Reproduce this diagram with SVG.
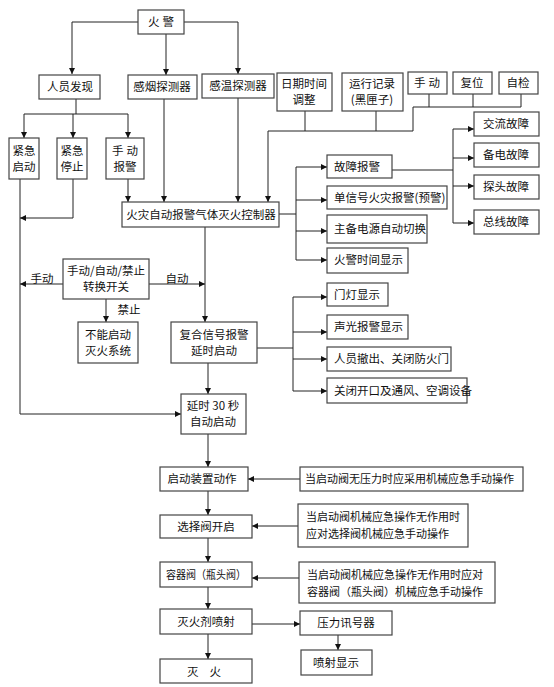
<svg xmlns="http://www.w3.org/2000/svg" width="554" height="687" viewBox="0 0 554 687">
<defs>
<marker id="ar" viewBox="0 0 10 10" refX="10" refY="5" markerWidth="6" markerHeight="6" markerUnits="userSpaceOnUse" orient="auto">
<path d="M0,0 L10,5 L0,10 z" fill="#111"/>
</marker>
<style>
rect{fill:#fff;stroke:#444;stroke-width:1.2}
text{font-family:"Noto Sans CJK SC","Liberation Sans",sans-serif;font-size:11.5px;fill:#111;text-anchor:middle}
.l{text-anchor:start}
.n{font-size:11px}
#conn path{fill:none;stroke:#222;stroke-width:1}
.a{marker-end:url(#ar)}
</style>
</defs>
<rect x="0" y="0" width="554" height="687" style="fill:#fff;stroke:none"/>
<g id="conn">
<path class="a" d="M138,22 H72 V74"/>
<path class="a" d="M166,34 V75"/>
<path class="a" d="M184,22 H238 V74"/>
<path d="M76,99 V114 M24,114 H128"/>
<path class="a" d="M24,114 V138"/>
<path class="a" d="M73,114 V138"/>
<path class="a" d="M128,114 V138"/>
<path class="a" d="M20,179 V414 H181"/>
<path class="a" d="M73,179 V218 H20"/>
<path class="a" d="M128,179 V202"/>
<path class="a" d="M164,99 V202"/>
<path class="a" d="M238,98 V202"/>
<path d="M305,111 V131 M376,111 V131 M429,94 V107 M473,94 V107 M521,94 V107 M413,131 V107 H521"/>
<path class="a" d="M413,131 H268 V202"/>
<path d="M279,214 H296 M296,167 V260"/>
<path class="a" d="M296,167 H327"/>
<path class="a" d="M296,200 H327"/>
<path class="a" d="M296,231 H327"/>
<path class="a" d="M296,260 H327"/>
<path d="M392,170 H453 M453,129 V223"/>
<path class="a" d="M453,129 H474"/>
<path class="a" d="M453,158 H474"/>
<path class="a" d="M453,186 H474"/>
<path class="a" d="M453,223 H474"/>
<path class="a" d="M205,227 V322"/>
<path class="a" d="M149,284 H205"/>
<path class="a" d="M63,284 H20"/>
<path class="a" d="M106,299 V322"/>
<path d="M257,348 H293 M293,297 V391"/>
<path class="a" d="M293,297 H327"/>
<path class="a" d="M293,332 H327"/>
<path class="a" d="M293,359 H327"/>
<path class="a" d="M293,391 H327"/>
<path class="a" d="M208,363 V394"/>
<path class="a" d="M208,434 V467"/>
<path class="a" d="M300,479 H248"/>
<path class="a" d="M208,491 V515"/>
<path class="a" d="M298,526 H252"/>
<path class="a" d="M208,538 V562"/>
<path class="a" d="M299,578 H252"/>
<path class="a" d="M208,587 V609"/>
<path class="a" d="M252,624 H300"/>
<path class="a" d="M338,635 V650"/>
<path class="a" d="M208,634 V659"/>
</g>
<g id="labels">
<text x="42" y="283">手动</text>
<text x="177" y="283">自动</text>
<text x="129" y="314">禁止</text>
</g>
<g id="n-fire"><rect x="138" y="10" width="46" height="24"/><text x="161" y="26" textLength="26" lengthAdjust="spacing">火警</text></g>
<g id="n-person"><rect x="39" y="75" width="61" height="24"/><text x="70" y="91">人员发现</text></g>
<g id="n-smoke"><rect x="128" y="75" width="69" height="24"/><text x="162" y="91">感烟探测器</text></g>
<g id="n-heat"><rect x="202" y="74" width="72" height="24"/><text x="238" y="90">感温探测器</text></g>
<g id="n-estart"><rect x="9" y="138" width="30" height="41"/><text x="24" y="155">紧急</text><text x="24" y="171">启动</text></g>
<g id="n-estop"><rect x="57" y="138" width="30" height="41"/><text x="72" y="155">紧急</text><text x="72" y="171">停止</text></g>
<g id="n-manual"><rect x="106" y="138" width="38" height="41"/><text x="125" y="155" textLength="26" lengthAdjust="spacing">手动</text><text x="125" y="171">报警</text></g>
<g id="n-ctrl"><rect x="122" y="202" width="157" height="25"/><text x="201" y="219">火灾自动报警气体灭火控制器</text></g>
<g id="n-date"><rect x="277" y="73" width="55" height="38"/><text x="304" y="88">日期时间</text><text x="304" y="104">调整</text></g>
<g id="n-log"><rect x="342" y="73" width="61" height="38"/><text x="372" y="88">运行记录</text><text x="372" y="104">(黑匣子)</text></g>
<g id="n-hand"><rect x="408" y="72" width="39" height="22"/><text x="427" y="87" textLength="26" lengthAdjust="spacing">手动</text></g>
<g id="n-reset"><rect x="453" y="72" width="39" height="22"/><text x="472" y="87">复位</text></g>
<g id="n-check"><rect x="499" y="72" width="39" height="22"/><text x="518" y="87">自检</text></g>
<g id="n-fault"><rect x="327" y="155" width="65" height="23"/><text class="l" x="334" y="171">故障报警</text></g>
<g id="n-single"><rect x="327" y="186" width="120" height="23"/><text class="l" x="334" y="202">单信号火灾报警(预警)</text></g>
<g id="n-power"><rect x="327" y="215" width="100" height="28"/><text class="l" x="334" y="233">主备电源自动切换</text></g>
<g id="n-time"><rect x="327" y="248" width="81" height="25"/><text class="l" x="334" y="264">火警时间显示</text></g>
<g id="n-ac"><rect x="474" y="112" width="65" height="24"/><text x="506" y="128">交流故障</text></g>
<g id="n-bat"><rect x="474" y="143" width="65" height="24"/><text x="506" y="159">备电故障</text></g>
<g id="n-probe"><rect x="474" y="175" width="65" height="24"/><text x="506" y="191">探头故障</text></g>
<g id="n-bus"><rect x="474" y="210" width="65" height="24"/><text x="506" y="226">总线故障</text></g>
<g id="n-switch"><rect x="63" y="259" width="86" height="40"/><text x="106" y="275">手动/自动/禁止</text><text x="106" y="291">转换开关</text></g>
<g id="n-cannot"><rect x="78" y="322" width="60" height="41"/><text x="108" y="339">不能启动</text><text x="108" y="355">灭火系统</text></g>
<g id="n-composite"><rect x="171" y="322" width="86" height="41"/><text x="214" y="339">复合信号报警</text><text x="214" y="355">延时启动</text></g>
<g id="n-door"><rect x="327" y="283" width="61" height="23"/><text class="l" x="334" y="299">门灯显示</text></g>
<g id="n-sound"><rect x="327" y="315" width="81" height="24"/><text class="l" x="334" y="331">声光报警显示</text></g>
<g id="n-evac"><rect x="327" y="347" width="124" height="24"/><text class="l" x="334" y="363">人员撤出、关闭防火门</text></g>
<g id="n-vent"><rect x="327" y="378" width="140" height="25"/><text class="l" x="334" y="395">关闭开口及通风、空调设备</text></g>
<g id="n-delay"><rect x="181" y="394" width="65" height="40"/><text x="213" y="410">延时 30 秒</text><text x="213" y="426">自动启动</text></g>
<g id="n-device"><rect x="160" y="467" width="88" height="24"/><text x="202" y="483">启动装置动作</text></g>
<g id="n-note1"><rect x="300" y="467" width="223" height="24"/><text class="l n" x="305" y="483">当启动阀无压力时应采用机械应急手动操作</text></g>
<g id="n-select"><rect x="160" y="515" width="92" height="23"/><text x="206" y="531">选择阀开启</text></g>
<g id="n-note2"><rect x="298" y="504" width="170" height="43"/><text class="l n" x="306" y="521">当启动阀机械应急操作无作用时</text><text class="l n" x="306" y="538">应对选择阀机械应急手动操作</text></g>
<g id="n-container"><rect x="160" y="562" width="92" height="25"/><text x="206" y="579" textLength="80" lengthAdjust="spacingAndGlyphs">容器阀（瓶头阀）</text></g>
<g id="n-note3"><rect x="299" y="562" width="196" height="41"/><text class="l n" x="307" y="579">当启动阀机械应急操作无作用时应对</text><text class="l n" x="307" y="596">容器阀（瓶头阀）机械应急手动操作</text></g>
<g id="n-spray"><rect x="160" y="609" width="92" height="25"/><text x="206" y="626">灭火剂喷射</text></g>
<g id="n-pressure"><rect x="300" y="611" width="92" height="24"/><text x="346" y="627">压力讯号器</text></g>
<g id="n-spraydisp"><rect x="301" y="650" width="71" height="25"/><text x="336" y="667">喷射显示</text></g>
<g id="n-out"><rect x="160" y="659" width="92" height="24"/><text x="204" y="676" textLength="34" lengthAdjust="spacing">灭火</text></g>
</svg>
